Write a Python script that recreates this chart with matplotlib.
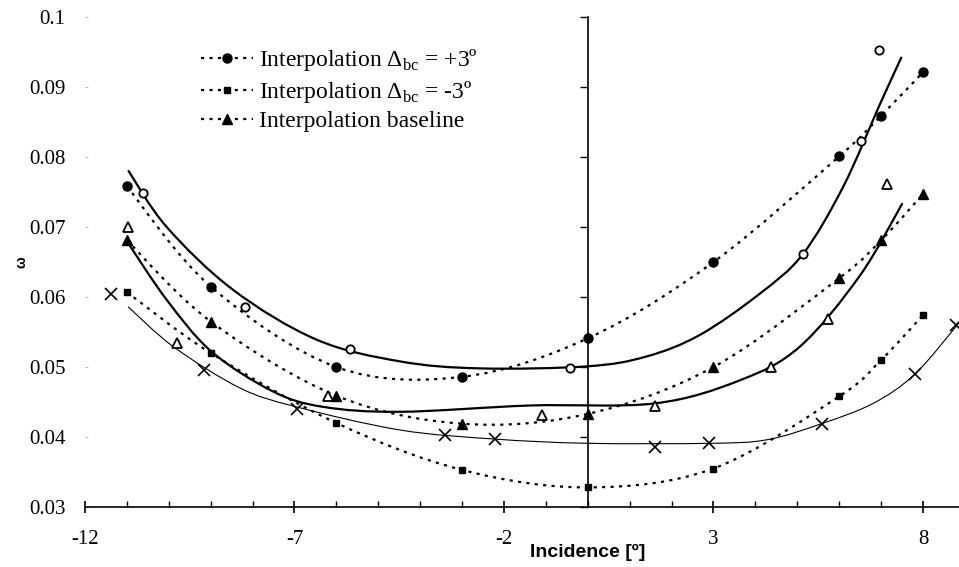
import numpy as np
import matplotlib
matplotlib.use("Agg")
import matplotlib.pyplot as plt
from matplotlib.path import Path
from matplotlib.patches import PathPatch
from matplotlib.lines import Line2D

plt.rcParams["font.family"] = ["Liberation Serif", "DejaVu Serif"]
plt.rcParams["mathtext.fontset"] = "custom"
plt.rcParams["mathtext.rm"] = "Liberation Serif"
plt.rcParams["axes.unicode_minus"] = False

# interpolation series (dotted, smoothed)
x_interp = [-11, -9, -6, -3, 0, 3, 6, 7, 8]
y_plus3 = [0.0758, 0.0615, 0.0500, 0.0486, 0.0541, 0.0650, 0.0801, 0.0859, 0.0921]
y_minus3 = [0.0607, 0.0520, 0.0420, 0.0353, 0.0328, 0.0355, 0.0458, 0.0510, 0.0574]
y_base = [0.0681, 0.0565, 0.0459, 0.0419, 0.0433, 0.0500, 0.0627, 0.0681, 0.0747]

# measured points
x_open_circ = [-10.62, -8.18, -5.68, -0.42, 5.13, 6.52, 6.96]
y_open_circ = [0.0748, 0.0586, 0.0526, 0.0499, 0.0662, 0.0823, 0.0953]
x_open_tri = [-10.97, -9.8, -6.19, -1.09, 1.6, 4.37, 5.74, 7.13]
y_open_tri = [0.0700, 0.0535, 0.0459, 0.0431, 0.0444, 0.0500, 0.0568, 0.0761]
x_cross = [-11.38, -9.15, -6.93, -3.41, -2.21, 1.6, 2.9, 5.58, 7.81, 8.79]
y_cross = [0.0605, 0.0496, 0.0440, 0.0403, 0.0397, 0.0386, 0.0391, 0.0419, 0.0490, 0.0560]

x_fit_hi = [-10.97, -10.05, -8.46, -6.47, -4.48, -2.57, 0.0, 1.4, 2.68, 4.11, 5.13, 6.10, 6.97, 7.49]
y_fit_hi = [0.0781, 0.0700, 0.0610, 0.0539, 0.0508, 0.0498, 0.0501, 0.0515, 0.0546, 0.0605, 0.0661,
            0.0758, 0.0875, 0.0943]
x_fit_base = [-10.97, -10.05, -8.98, -7.51, -6.31, -4.48, -1.38, 1.6, 3.63, 5.06, 6.5, 7.51]
y_fit_base = [0.0677, 0.0596, 0.0522, 0.0465, 0.0443, 0.0436, 0.0445, 0.0448, 0.0481, 0.0529, 0.0631, 0.0734]
x_fit_cross = [-10.97, -9.89, -8.3, -6.95, -4.48, -2.21, 0.0, 2.9, 4.27, 5.58, 6.81, 7.81, 8.86]
y_fit_cross = [0.0586, 0.0529, 0.0470, 0.0443, 0.0410, 0.0397, 0.0391, 0.0391, 0.0396, 0.0419, 0.0448,
               0.0490, 0.0563]

labels = ["Interpolation \u0394$_{\\mathrm{bc}}$ = +3\u00ba",
          "Interpolation \u0394$_{\\mathrm{bc}}$ = -3\u00ba",
          "Interpolation baseline"]

DOT = (0, (1.4, 2.4))


def smooth_path(x, y):
    # Catmull-Rom through the points, as cubic Bezier segments (like Excel smoothed lines)
    pts = np.column_stack([x, y]).astype(float)
    verts, codes = [pts[0]], [Path.MOVETO]
    n = len(pts)
    for i in range(n - 1):
        p0 = pts[i - 1] if i > 0 else pts[i]
        p1, p2 = pts[i], pts[i + 1]
        p3 = pts[i + 2] if i + 2 < n else pts[i + 1]
        verts += [p1 + (p2 - p0) / 6, p2 - (p3 - p1) / 6, p2]
        codes += [Path.CURVE4] * 3
    return Path(verts, codes)


def curve(ax, x, y, **kw):
    ax.add_patch(PathPatch(smooth_path(x, y), fill=False, edgecolor="black", **kw))


fig = plt.figure(figsize=(9.59, 5.67), dpi=100)
ax = fig.add_axes([85 / 959, 60 / 567, 874 / 959, 490 / 567])
ax.set_xlim(-12, 8.86)
ax.set_ylim(0.03, 0.1)

# solid curves
curve(ax, x_fit_hi, y_fit_hi, lw=1.6)
curve(ax, x_fit_base, y_fit_base, lw=1.6)
curve(ax, x_fit_cross, y_fit_cross, lw=0.8)

# dotted interpolations
for ys in (y_plus3, y_minus3, y_base):
    curve(ax, x_interp, ys, lw=1.6, linestyle=DOT)

ax.plot(x_interp, y_plus3, "o", color="black", ms=6.5, zorder=4)
ax.plot(x_interp, y_minus3, "s", color="black", ms=4, zorder=4)
ax.plot(x_interp, y_base, "^", color="black", ms=7.5, zorder=4)
ax.plot(x_open_circ, y_open_circ, "o", mfc="white", mec="black", mew=1.3, ms=6, zorder=4,
        clip_on=False)
ax.plot(x_open_tri, y_open_tri, "^", mfc="white", mec="black", mew=1.3, ms=7.5, zorder=4)
ax.plot(x_cross, y_cross, "x", color="black", mew=1.2, ms=8, zorder=4, clip_on=False)

# axes styling (Excel look: x axis at 0.03, vertical axis line at x = 0)
for s in ("top", "right", "left"):
    ax.spines[s].set_visible(False)
ax.spines["bottom"].set_linewidth(1.2)
ax.set_xticks(np.arange(-12, 9, 5))
ax.set_xticks(np.arange(-12, 9, 1), minor=True)
ax.set_yticks(np.round(np.arange(0.03, 0.1001, 0.01), 2))
ax.set_yticklabels(["0.03", "0.04", "0.05", "0.06", "0.07", "0.08", "0.09", "0.1"])
ax.tick_params(axis="x", which="major", direction="inout", length=9, width=1.2,
               labelsize=15, pad=12)
ax.tick_params(axis="x", which="minor", direction="in", length=4, width=1.0)
ax.tick_params(axis="y", which="major", direction="in", length=2, color="#bbbbbb",
               labelsize=15, pad=14)

ax2 = ax.twinx()
ax2.set_ylim(ax.get_ylim())
ax2.set_yticks(ax.get_yticks())
for s in ("top", "left", "bottom"):
    ax2.spines[s].set_visible(False)
ax2.spines["right"].set_position(("data", 0))
ax2.spines["right"].set_linewidth(1.2)
ax2.tick_params(axis="y", direction="in", length=6, width=1.0, labelright=False)

ax.set_xlabel("Incidence [\u00ba]", fontsize=14, fontweight="bold",
              family=["Liberation Sans", "DejaVu Sans"])
ax.xaxis.set_label_coords(12 / 20.86, -0.075)
ax.set_ylabel("\u03c9", fontsize=10, fontweight="bold", family=["Liberation Sans", "DejaVu Sans"])
ax.yaxis.set_label_coords(-0.065, 0.5)

handles = [
    Line2D([], [], color="black", lw=1.6, ls=DOT, marker="o", ms=6.5),
    Line2D([], [], color="black", lw=1.6, ls=DOT, marker="s", ms=4),
    Line2D([], [], color="black", lw=1.6, ls=DOT, marker="^", ms=7.5),
]
fig.legend(handles, labels, loc="upper left", bbox_to_anchor=(201 / 959, 1 - 47 / 567),
           frameon=False, fontsize=17, handlelength=2.2, handletextpad=0.25,
           labelspacing=0.25, borderpad=0, borderaxespad=0)

fig.savefig("out.png", dpi=100)
